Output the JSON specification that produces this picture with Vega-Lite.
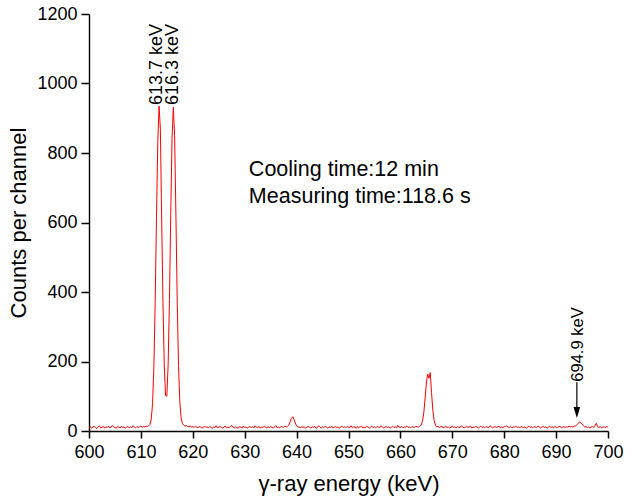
{
"$schema": "https://vega.github.io/schema/vega-lite/v6.json",
"width": 519, "height": 417,
"autosize": {"type": "none"},
"padding": {"left": 89, "top": 14, "right": 28, "bottom": 70},
"background": "white",
"config": {"font": "Liberation Sans", "view": {"stroke": null},
 "axis": {"grid": false, "ticks": true, "domainColor": "black", "tickColor": "black", "labelColor": "black", "titleColor": "black", "labelFontSize": 18, "titleFontSize": 22, "titleFontWeight": "normal", "domainWidth": 1.4, "tickWidth": 1.5}},
"datasets": {
"spec": [
{"e":600,"c":9},{"e":600.25,"c":13},{"e":600.5,"c":8},{"e":600.75,"c":11},{"e":601,"c":14},{"e":601.25,"c":10},{"e":601.5,"c":7},{"e":601.75,"c":12},{"e":602,"c":15},{"e":602.25,"c":9},{"e":602.5,"c":11},{"e":602.75,"c":13},{"e":603,"c":8},{"e":603.25,"c":12},{"e":603.5,"c":10},{"e":603.75,"c":14},{"e":604,"c":9},{"e":604.25,"c":11},{"e":604.5,"c":16},{"e":604.75,"c":12},{"e":605,"c":10},{"e":605.25,"c":8},{"e":605.5,"c":13},{"e":605.75,"c":11},{"e":606,"c":9},{"e":606.25,"c":14},{"e":606.5,"c":10},{"e":606.75,"c":12},{"e":607,"c":8},{"e":607.25,"c":11},{"e":607.5,"c":13},{"e":607.75,"c":9},{"e":608,"c":12},{"e":608.25,"c":10},{"e":608.5,"c":15},{"e":608.75,"c":11},{"e":609,"c":9},{"e":609.25,"c":13},{"e":609.5,"c":10},{"e":609.75,"c":12},{"e":610,"c":14},{"e":610.25,"c":11},{"e":610.5,"c":13},{"e":610.75,"c":12},
{"e":611,"c":14},{"e":611.25,"c":13},{"e":611.5,"c":15},{"e":611.75,"c":19},{"e":612,"c":34},{"e":612.25,"c":80},{"e":612.5,"c":185},{"e":612.75,"c":370},{"e":613,"c":612},{"e":613.25,"c":830},{"e":613.5,"c":935},{"e":613.75,"c":870},{"e":614,"c":610},{"e":614.25,"c":372},{"e":614.5,"c":190},{"e":614.75,"c":102},{"e":615,"c":100},{"e":615.25,"c":192},{"e":615.5,"c":378},{"e":615.75,"c":622},{"e":616,"c":842},{"e":616.25,"c":932},{"e":616.5,"c":850},{"e":616.75,"c":618},{"e":617,"c":372},{"e":617.25,"c":188},{"e":617.5,"c":84},{"e":617.75,"c":38},{"e":618,"c":22},{"e":618.25,"c":17},{"e":618.5,"c":14},{"e":618.75,"c":16},{"e":619,"c":13},{"e":619.25,"c":12},{"e":619.5,"c":15},{"e":619.75,"c":11},{"e":620,"c":13},
{"e":620.25,"c":10},{"e":620.5,"c":14},{"e":620.75,"c":11},{"e":621,"c":9},{"e":621.25,"c":13},{"e":621.5,"c":12},{"e":621.75,"c":8},{"e":622,"c":11},{"e":622.25,"c":14},{"e":622.5,"c":10},{"e":622.75,"c":12},{"e":623,"c":9},{"e":623.25,"c":13},{"e":623.5,"c":11},{"e":623.75,"c":7},{"e":624,"c":12},{"e":624.25,"c":10},{"e":624.5,"c":15},{"e":624.75,"c":9},{"e":625,"c":11},{"e":625.25,"c":13},{"e":625.5,"c":10},{"e":625.75,"c":8},{"e":626,"c":12},{"e":626.25,"c":14},{"e":626.5,"c":9},{"e":626.75,"c":11},{"e":627,"c":10},{"e":627.25,"c":13},{"e":627.5,"c":16},{"e":627.75,"c":11},{"e":628,"c":9},{"e":628.25,"c":12},{"e":628.5,"c":10},{"e":628.75,"c":8},{"e":629,"c":13},{"e":629.25,"c":11},{"e":629.5,"c":9},{"e":629.75,"c":14},{"e":630,"c":10},{"e":630.25,"c":12},{"e":630.5,"c":8},{"e":630.75,"c":11},{"e":631,"c":13},{"e":631.25,"c":10},{"e":631.5,"c":12},{"e":631.75,"c":9},{"e":632,"c":15},{"e":632.25,"c":11},{"e":632.5,"c":10},{"e":632.75,"c":13},{"e":633,"c":8},{"e":633.25,"c":12},{"e":633.5,"c":10},{"e":633.75,"c":14},{"e":634,"c":11},{"e":634.25,"c":9},{"e":634.5,"c":12},{"e":634.75,"c":10},{"e":635,"c":13},{"e":635.25,"c":11},{"e":635.5,"c":8},{"e":635.75,"c":12},{"e":636,"c":16},{"e":636.25,"c":10},{"e":636.5,"c":11},{"e":636.75,"c":9},{"e":637,"c":13},{"e":637.25,"c":12},{"e":637.5,"c":10},{"e":637.75,"c":14},{"e":638,"c":11},{"e":638.25,"c":13},
{"e":638.5,"c":17},{"e":638.75,"c":26},{"e":639,"c":36},{"e":639.25,"c":41},{"e":639.5,"c":33},{"e":639.75,"c":23},{"e":640,"c":15},{"e":640.25,"c":12},
{"e":640.5,"c":11},{"e":640.75,"c":9},{"e":641,"c":13},{"e":641.25,"c":10},{"e":641.5,"c":12},{"e":641.75,"c":8},{"e":642,"c":11},{"e":642.25,"c":14},{"e":642.5,"c":10},{"e":642.75,"c":9},{"e":643,"c":12},{"e":643.25,"c":11},{"e":643.5,"c":13},{"e":643.75,"c":8},{"e":644,"c":10},{"e":644.25,"c":15},{"e":644.5,"c":11},{"e":644.75,"c":9},{"e":645,"c":12},{"e":645.25,"c":10},{"e":645.5,"c":13},{"e":645.75,"c":11},{"e":646,"c":8},{"e":646.25,"c":12},{"e":646.5,"c":10},{"e":646.75,"c":14},{"e":647,"c":9},{"e":647.25,"c":11},{"e":647.5,"c":13},{"e":647.75,"c":10},{"e":648,"c":12},{"e":648.25,"c":8},{"e":648.5,"c":11},{"e":648.75,"c":14},{"e":649,"c":10},{"e":649.25,"c":12},{"e":649.5,"c":9},{"e":649.75,"c":13},{"e":650,"c":11},{"e":650.25,"c":10},{"e":650.5,"c":15},{"e":650.75,"c":9},{"e":651,"c":12},{"e":651.25,"c":11},{"e":651.5,"c":8},{"e":651.75,"c":13},{"e":652,"c":10},{"e":652.25,"c":12},{"e":652.5,"c":14},{"e":652.75,"c":9},{"e":653,"c":11},{"e":653.25,"c":10},{"e":653.5,"c":13},{"e":653.75,"c":12},{"e":654,"c":8},{"e":654.25,"c":11},{"e":654.5,"c":14},{"e":654.75,"c":10},{"e":655,"c":12},{"e":655.25,"c":9},{"e":655.5,"c":13},{"e":655.75,"c":11},{"e":656,"c":10},{"e":656.25,"c":15},{"e":656.5,"c":12},{"e":656.75,"c":9},{"e":657,"c":11},{"e":657.25,"c":13},{"e":657.5,"c":10},{"e":657.75,"c":12},{"e":658,"c":8},{"e":658.25,"c":11},{"e":658.5,"c":14},{"e":658.75,"c":10},{"e":659,"c":12},{"e":659.25,"c":9},{"e":659.5,"c":16},{"e":659.75,"c":11},{"e":660,"c":10},{"e":660.25,"c":13},{"e":660.5,"c":9},{"e":660.75,"c":12},{"e":661,"c":11},{"e":661.25,"c":14},{"e":661.5,"c":10},{"e":661.75,"c":12},{"e":662,"c":9},{"e":662.25,"c":13},{"e":662.5,"c":11},{"e":662.75,"c":10},{"e":663,"c":14},{"e":663.25,"c":12},{"e":663.5,"c":11},{"e":663.75,"c":14},
{"e":664,"c":17},{"e":664.25,"c":28},{"e":664.5,"c":52},{"e":664.75,"c":92},{"e":665,"c":138},{"e":665.25,"c":164},{"e":665.5,"c":152},{"e":665.75,"c":168},{"e":666,"c":110},{"e":666.25,"c":60},{"e":666.5,"c":30},{"e":666.75,"c":17},{"e":667,"c":12},
{"e":667.25,"c":13},{"e":667.5,"c":10},{"e":667.75,"c":12},{"e":668,"c":14},{"e":668.25,"c":9},{"e":668.5,"c":11},{"e":668.75,"c":13},{"e":669,"c":10},{"e":669.25,"c":12},{"e":669.5,"c":8},{"e":669.75,"c":11},{"e":670,"c":14},{"e":670.25,"c":10},{"e":670.5,"c":12},{"e":670.75,"c":9},{"e":671,"c":13},{"e":671.25,"c":11},{"e":671.5,"c":10},{"e":671.75,"c":15},{"e":672,"c":12},{"e":672.25,"c":9},{"e":672.5,"c":11},{"e":672.75,"c":13},{"e":673,"c":10},{"e":673.25,"c":12},{"e":673.5,"c":14},{"e":673.75,"c":9},{"e":674,"c":11},{"e":674.25,"c":10},{"e":674.5,"c":13},{"e":674.75,"c":12},{"e":675,"c":8},{"e":675.25,"c":11},{"e":675.5,"c":14},{"e":675.75,"c":10},{"e":676,"c":12},{"e":676.25,"c":9},{"e":676.5,"c":13},{"e":676.75,"c":11},{"e":677,"c":10},{"e":677.25,"c":15},{"e":677.5,"c":12},{"e":677.75,"c":9},{"e":678,"c":11},{"e":678.25,"c":13},{"e":678.5,"c":10},{"e":678.75,"c":12},{"e":679,"c":14},{"e":679.25,"c":9},{"e":679.5,"c":11},{"e":679.75,"c":10},{"e":680,"c":13},{"e":680.25,"c":12},{"e":680.5,"c":15},{"e":680.75,"c":11},{"e":681,"c":10},{"e":681.25,"c":13},{"e":681.5,"c":9},{"e":681.75,"c":12},{"e":682,"c":11},{"e":682.25,"c":14},{"e":682.5,"c":10},{"e":682.75,"c":12},{"e":683,"c":9},{"e":683.25,"c":13},{"e":683.5,"c":11},{"e":683.75,"c":10},{"e":684,"c":12},{"e":684.25,"c":8},{"e":684.5,"c":11},{"e":684.75,"c":14},{"e":685,"c":10},{"e":685.25,"c":12},{"e":685.5,"c":9},{"e":685.75,"c":13},{"e":686,"c":11},{"e":686.25,"c":10},{"e":686.5,"c":14},{"e":686.75,"c":12},{"e":687,"c":9},{"e":687.25,"c":11},{"e":687.5,"c":13},{"e":687.75,"c":10},{"e":688,"c":12},{"e":688.25,"c":8},{"e":688.5,"c":11},{"e":688.75,"c":14},{"e":689,"c":10},{"e":689.25,"c":12},{"e":689.5,"c":9},{"e":689.75,"c":13},{"e":690,"c":11},{"e":690.25,"c":10},{"e":690.5,"c":12},{"e":690.75,"c":14},{"e":691,"c":9},{"e":691.25,"c":11},{"e":691.5,"c":13},{"e":691.75,"c":10},{"e":692,"c":12},{"e":692.25,"c":11},{"e":692.5,"c":14},{"e":692.75,"c":12},{"e":693,"c":13},{"e":693.25,"c":11},{"e":693.5,"c":14},
{"e":693.75,"c":14},{"e":694,"c":18},{"e":694.25,"c":22},{"e":694.5,"c":26},{"e":694.75,"c":24},{"e":695,"c":20},{"e":695.25,"c":15},{"e":695.5,"c":12},
{"e":695.75,"c":13},{"e":696,"c":10},{"e":696.25,"c":12},{"e":696.5,"c":9},{"e":696.75,"c":11},{"e":697,"c":13},{"e":697.25,"c":10},{"e":697.5,"c":16},{"e":697.75,"c":22},{"e":698,"c":12},{"e":698.25,"c":10},{"e":698.5,"c":13},{"e":698.75,"c":9},{"e":699,"c":11},{"e":699.25,"c":12},{"e":699.5,"c":10},{"e":699.75,"c":13},{"e":700,"c":11}
],
"toplabels": [
{"e":613.1,"c":938,"label":"613.7 keV"},
{"e":616.2,"c":938,"label":"616.3 keV"}
],
"sidelabel": [
{"e":694.3,"c":142,"label":"694.9 keV"}
],
"notes": [
{"e":630.8,"c":751,"label":"Cooling time:12 min"},
{"e":630.8,"c":673,"label":"Measuring time:118.6 s"}
],
"arrow": [{"e":694.0,"c":140,"c2":62}],
"arrowhead": [{"e":694.0,"c":53}]
},
"layer": [
{"data": {"name": "spec"},
 "mark": {"type": "line", "color": "#ff0000", "strokeWidth": 1, "clip": true},
 "encoding": {
  "x": {"field": "e", "type": "quantitative", "scale": {"domain": [600, 700], "nice": false, "zero": false},
        "axis": {"orient": "bottom", "values": [600,605,610,615,620,625,630,635,640,645,650,655,660,665,670,675,680,685,690,695,700], "format": "d",
                 "labelExpr": "datum.value % 10 === 0 ? datum.label : ''",
                 "tickSize": 7,
                 "tickDash": {"condition": {"test": "datum.value % 10 === 0", "value": [1, 0]}, "value": [4, 10]},
                 "labelPadding": 5, "title": "γ-ray energy (keV)", "titlePadding": 12, "labelFlush": false, "labelOverlap": false}},
  "y": {"field": "c", "type": "quantitative", "scale": {"domain": [0, 1200], "nice": false},
        "axis": {"orient": "left", "values": [0,100,200,300,400,500,600,700,800,900,1000,1100,1200], "format": "d",
                 "labelExpr": "datum.value % 200 === 0 ? datum.label : ''",
                 "tickSize": 8,
                 "tickDash": {"condition": {"test": "datum.value % 200 === 0", "value": [1, 0]}, "value": [4, 10]},
                 "labelPadding": 4, "title": "Counts per channel", "titlePadding": 6, "labelFlush": false, "labelOverlap": false}}
 }},
{"data": {"name": "toplabels"},
 "mark": {"type": "text", "angle": 270, "align": "left", "baseline": "middle", "fontSize": 18, "color": "black"},
 "encoding": {"x": {"field": "e", "type": "quantitative"}, "y": {"field": "c", "type": "quantitative"}, "text": {"field": "label"}}},
{"data": {"name": "sidelabel"},
 "mark": {"type": "text", "angle": 270, "align": "left", "baseline": "middle", "fontSize": 16.5, "color": "black"},
 "encoding": {"x": {"field": "e", "type": "quantitative"}, "y": {"field": "c", "type": "quantitative"}, "text": {"field": "label"}}},
{"data": {"name": "notes"},
 "mark": {"type": "text", "align": "left", "baseline": "middle", "fontSize": 21.5, "color": "black"},
 "encoding": {"x": {"field": "e", "type": "quantitative"}, "y": {"field": "c", "type": "quantitative"}, "text": {"field": "label"}}},
{"data": {"name": "arrow"},
 "mark": {"type": "rule", "color": "black", "strokeWidth": 1.2},
 "encoding": {"x": {"field": "e", "type": "quantitative"}, "y": {"field": "c", "type": "quantitative"}, "y2": {"field": "c2"}}},
{"data": {"name": "arrowhead"},
 "mark": {"type": "point", "shape": "M-0.6,-1L0.6,-1L0,1Z", "size": 121, "filled": true, "color": "black", "opacity": 1},
 "encoding": {"x": {"field": "e", "type": "quantitative"}, "y": {"field": "c", "type": "quantitative"}}}
]
}
